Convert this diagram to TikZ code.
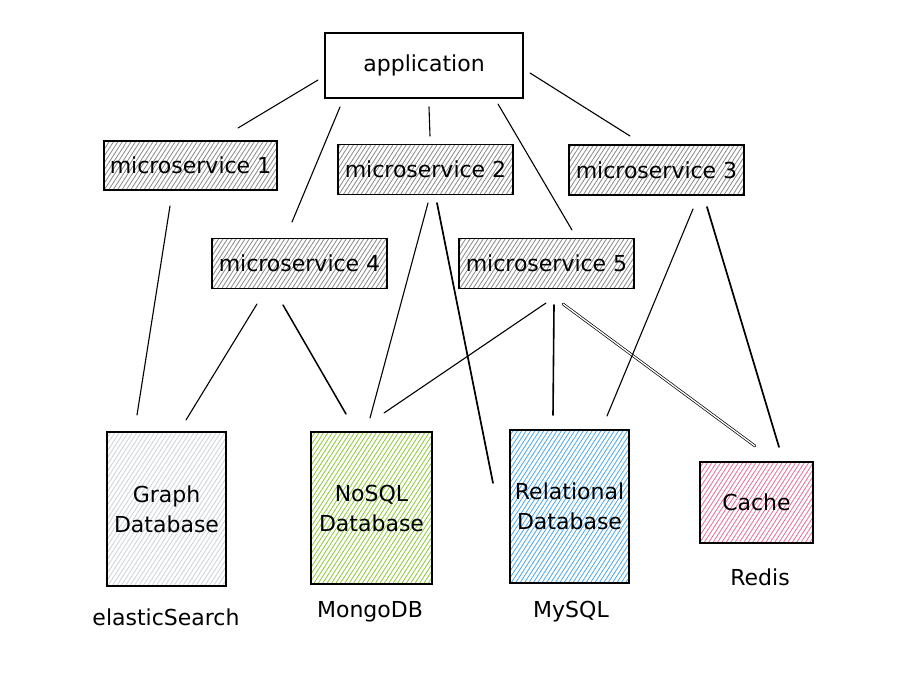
\documentclass[tikz,border=0pt]{standalone}
\usepackage{fontspec}
\setmainfont{DejaVu Sans}
\usetikzlibrary{calc}
\definecolor{msgray}{HTML}{8A8A8A}
\definecolor{lightgray}{HTML}{CDD3D9}
\definecolor{nosqlgreen}{HTML}{8CCB35}
\definecolor{relblue}{HTML}{4AA8F5}
\definecolor{cachepink}{HTML}{EC6C96}
\begin{document}
\begin{tikzpicture}[x=1pt,y=-1pt,
  box/.style={draw=black, line width=1.6pt, rectangle, inner sep=0pt, align=center,
    font=\fontsize{22}{30}\selectfont},
  hatch/.style={path picture={
    \foreach \k in {-60,...,60}{
      \draw[#1, line width=0.8pt]
        ($(path picture bounding box.center)+(\k*4.4,0)+(-120,185)$) -- ++(240,-370);
    }}},
  msbox/.style={box, hatch=msgray, minimum height=50pt, minimum width=175pt},
  lbl/.style={font=\fontsize{22}{26}\selectfont, inner sep=0pt},
  conn/.style={line width=1.1pt, line cap=round},
  dconn/.style={line width=0.7pt, double, double distance=1.3pt, line cap=round}]
\useasboundingbox (0,0) rectangle (915,679);
\fill[white] (0,0) rectangle (915,679);

\node[box, minimum width=198pt, minimum height=65pt] (app) at (424,65.5) {application};
\node[msbox, minimum width=173pt, minimum height=49pt] (ms1) at (190.5,165.5) {microservice 1};
\node[msbox] (ms2) at (425.5,169.5) {microservice 2};
\node[msbox] (ms3) at (656.5,170) {microservice 3};
\node[msbox] (ms4) at (299.5,263.5) {microservice 4};
\node[msbox] (ms5) at (546.5,263.5) {microservice 5};

\node[box, hatch=lightgray, minimum width=119pt, minimum height=154pt] (graph) at (166.5,509) {Graph\\Database};
\node[box, hatch=nosqlgreen, minimum width=121pt, minimum height=152pt] (nosql) at (371.5,508) {NoSQL\\Database};
\node[box, hatch=relblue, minimum width=119pt, minimum height=153pt] (rel) at (569.5,506.5) {Relational\\Database};
\node[box, hatch=cachepink, minimum width=113pt, minimum height=81pt] (cache) at (756.5,502.5) {Cache};

\node[lbl] (es) at (166,617) {elasticSearch};
\node[lbl] (mongo) at (370,612) {MongoDB};
\node[lbl] (mysql) at (571,612) {MySQL};
\node[lbl] (redis) at (760,577) {Redis};

% connector end points (lines stop short of the boxes)
\coordinate (app-ms1) at (318,80);   \coordinate (ms1-app) at (238,128);
\coordinate (app-ms4) at (340,107);  \coordinate (ms4-app) at (292,222);
\coordinate (app-ms2) at (429,107);  \coordinate (ms2-app) at (430,136);
\coordinate (app-ms5) at (498,104);  \coordinate (ms5-app) at (572,230);
\coordinate (app-ms3) at (530,73);   \coordinate (ms3-app) at (630,136);
\coordinate (ms1-graph) at (170,206); \coordinate (graph-ms1) at (137,415);
\coordinate (ms4-graph) at (257,304); \coordinate (graph-ms4) at (186,420);
\coordinate (ms4-nosql) at (283,305); \coordinate (nosql-ms4) at (346,414);
\coordinate (ms2-nosql) at (428,203); \coordinate (nosql-ms2) at (370,418);
\coordinate (ms2-rel) at (437,203);   \coordinate (rel-ms2) at (493,483);
\coordinate (ms5-nosql) at (546,303); \coordinate (nosql-ms5) at (384,413);
\coordinate (ms5-rel) at (554,305);   \coordinate (rel-ms5) at (553,415);
\coordinate (ms5-cache) at (563,304); \coordinate (cache-ms5) at (755,446);
\coordinate (ms3-rel) at (693,209);   \coordinate (rel-ms3) at (607,416);
\coordinate (ms3-cache) at (707,207); \coordinate (cache-ms3) at (779,447);

\draw[conn] (app-ms1) -- (ms1-app);
\draw[conn] (app-ms4) -- (ms4-app);
\draw[conn] (app-ms2) -- (ms2-app);
\draw[conn] (app-ms5) -- (ms5-app);
\draw[conn] (app-ms3) -- (ms3-app);
\draw[conn] (ms1-graph) -- (graph-ms1);
\draw[conn] (ms4-graph) -- (graph-ms4);
\draw[conn, line width=1.5pt] (ms4-nosql) -- (nosql-ms4);
\draw[conn] (ms2-nosql) -- (nosql-ms2);
\draw[conn, line width=1.7pt] (ms2-rel) -- (rel-ms2);
\draw[conn] (ms5-nosql) -- (nosql-ms5);
\draw[conn, line width=1.6pt] (ms5-rel) -- (rel-ms5);
\draw[dconn] (ms5-cache) -- (cache-ms5);
\draw[conn] (ms3-rel) -- (rel-ms3);
\draw[conn, line width=1.7pt] (ms3-cache) -- (cache-ms3);
\end{tikzpicture}
\end{document}
